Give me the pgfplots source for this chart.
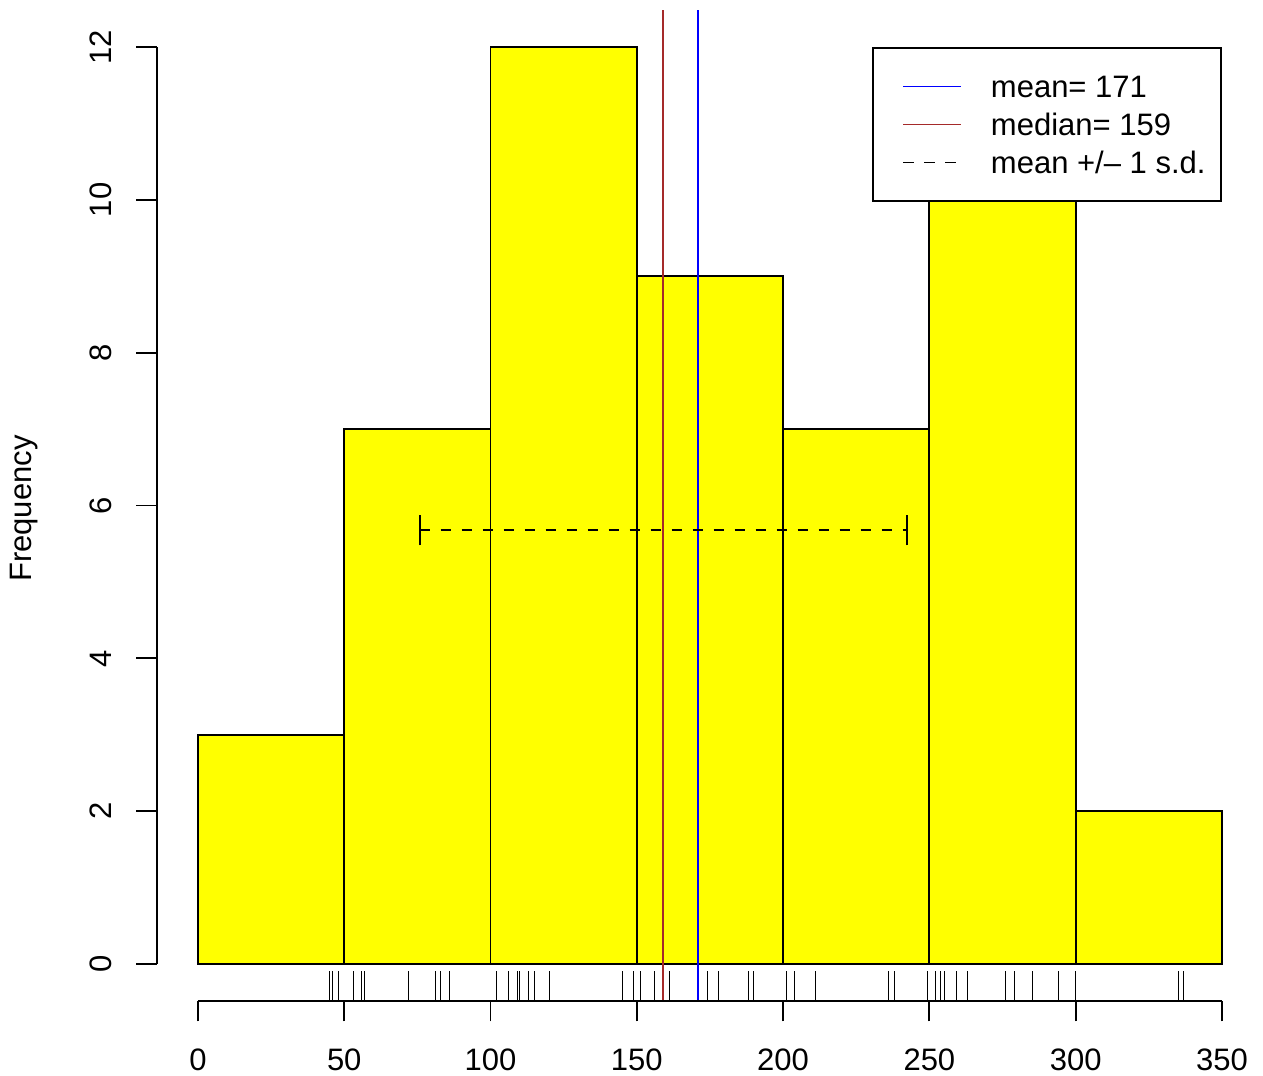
\documentclass[border=0pt]{standalone}
\usepackage{fontspec}
\setmainfont{Liberation Sans}
\usepackage{pgfplots}
\pgfplotsset{compat=1.18}
\definecolor{ryellow}{RGB}{255,255,0}
\definecolor{rbrown}{RGB}{165,42,42}
\definecolor{rblue}{RGB}{0,0,255}
\newcommand{\rfont}{\fontsize{12.4bp}{14.9bp}\selectfont}
\begin{document}
\begin{tikzpicture}
\useasboundingbox (-62.8bp,-30.1bp) rectangle (442.4bp,400.3bp);
\begin{axis}[
  name=ax, at={(0,0)}, anchor=south west,
  x=1.17028bp, y=30.567bp,
  xmin=-14, xmax=364, ymin=-0.48, ymax=12.48,
  clip=false,
  axis x line*=bottom, axis y line*=left,
  axis line style={draw=none,-},
  tick align=outside, major tick length=8.2bp,
  every tick/.append style={black, line width=0.75bp},
  xtick={0,50,...,350}, ytick={0,2,...,12},
  minor tick num=0,
  scaled ticks=false,
  /pgf/number format/assume math mode=true,
  tick label style={font=\rfont, inner sep=0pt},
  xticklabel style={anchor=base},
  yticklabel style={rotate=90, anchor=base},
  xticklabel shift=19.8bp, yticklabel shift=10.1bp,
  legend style={at={(0.96296,0.96296)}, anchor=north east, draw=black, line width=0.75bp, fill=white,
    inner xsep=6.2bp, inner ysep=7.8bp, row sep=0pt, column sep=0pt, font=\rfont,
    nodes={inner sep=0pt, text height=12.2bp, text depth=3bp}},
  legend cell align=left,
  legend image code/.code={\path[draw=none,fill=none] (0bp,0bp) -- (41bp,0bp); \draw[#1] (6bp,0bp) -- (29.2bp,0bp);},
]
\addplot[ybar interval, fill=ryellow, draw=black, line width=0.75bp, forget plot]
  coordinates {(0,3)(50,7)(100,12)(150,9)(200,7)(250,10)(300,2)(350,2)};
\addplot[forget plot, quiver={u=0,v=0.389}, black, line width=0.375bp]
  table[x index=0, y expr=-0.48, row sep=\\]{
  v\\
  44.9\\ 45.9\\ 47.9\\
  53.1\\ 55.9\\ 57.0\\ 72.1\\ 81.1\\ 82.9\\ 85.9\\
  102.1\\ 106.0\\ 106.0\\ 109.1\\ 109.8\\ 113.0\\ 113.0\\ 114.9\\ 120.1\\ 145.1\\ 145.1\\ 149.0\\
  151.1\\ 151.1\\ 156.1\\ 161.1\\ 174.1\\ 178.0\\ 188.2\\ 188.2\\ 190.0\\
  201.2\\ 204.0\\ 204.0\\ 211.1\\ 236.1\\ 238.0\\ 249.2\\
  252.2\\ 253.9\\ 255.0\\ 259.1\\ 263.1\\ 276.1\\ 279.0\\ 285.1\\ 294.2\\ 300.0\\
  335.1\\ 337.0\\
};
\addplot[rblue, line width=0.75bp] coordinates {(171,-0.48)(171,12.48)};
\addlegendentry{mean= 171}
\addplot[rbrown, line width=0.75bp] coordinates {(159,-0.48)(159,12.48)};
\addlegendentry{median= 159}
\addplot[black, line width=0.75bp, dash pattern=on 4.2bp off 4.2bp] coordinates {(75.8,5.68)(242.2,5.68)};
\addlegendentry{mean +/– 1 s.d.}
\addplot[black, line width=0.75bp, forget plot] coordinates {(75.8,5.48)(75.8,5.88)};
\addplot[black, line width=0.75bp, forget plot] coordinates {(242.2,5.48)(242.2,5.88)};
\draw[line width=0.75bp] (axis cs:0,-0.48) -- (axis cs:350,-0.48);
\draw[line width=0.75bp] (axis cs:-14,0) -- (axis cs:-14,12);
\end{axis}
\node[font=\rfont, rotate=90, anchor=base] at ([xshift=-50.3bp, yshift=-1.2bp]ax.west) {Frequency};
\end{tikzpicture}
\end{document}
